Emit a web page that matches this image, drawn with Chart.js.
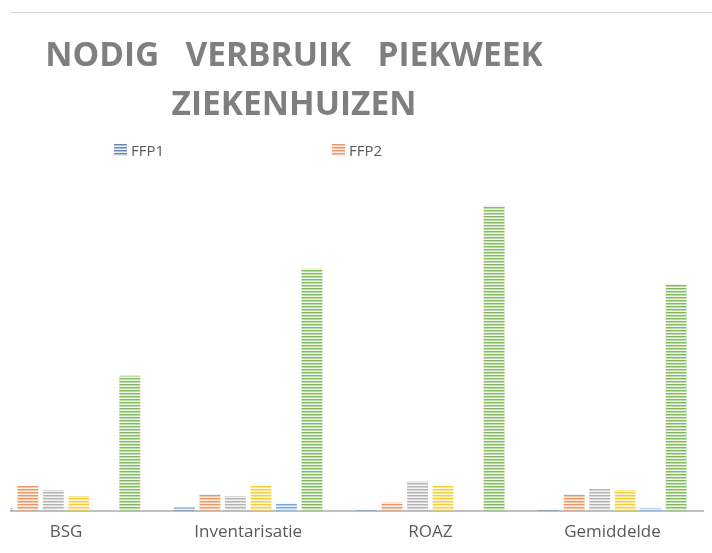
<!DOCTYPE html>
<html>
<head>
<meta charset="utf-8">
<script src="https://cdn.jsdelivr.net/npm/chart.js@4/dist/chart.umd.min.js"></script>
<style>
  html, body { margin: 0; padding: 0; background: #ffffff; }
  body { width: 712px; height: 553px; position: relative; overflow: hidden; }
  #frame { position: absolute; left: 10px; top: 0; width: 702px; height: 553px; overflow: hidden; }
  #topline { position: absolute; left: 10px; top: 12px; width: 702px; height: 1px; background: #d9d9d9; }
  #chart { position: absolute; left: -130px; top: 0; }
  .legend-item { position: absolute; top: 140px; height: 20px; line-height: 20px;
    font-family: 'Open Sans', sans-serif; font-size: 15px; color: #595959; }
  .legend-box { position: absolute; top: 4px; left: 0; }
  .legend-text { position: absolute; left: 17px; top: 0; white-space: nowrap; }
</style>
</head>
<body>
<div id="frame"><canvas id="chart" width="830" height="553"></canvas></div>
<div id="topline"></div>
<div class="legend-item" style="left:114px"><canvas class="legend-box" id="lg0" width="13" height="12"></canvas><span class="legend-text">FFP1</span></div>
<div class="legend-item" style="left:332px"><canvas class="legend-box" id="lg1" width="13" height="12"></canvas><span class="legend-text">FFP2</span></div>
<script>
// categorieën en waarden
const categories = ['BSG', 'Inventarisatie', 'ROAZ', 'Gemiddelde'];
const ffp1 = [1.6, 1.8, 0.6, 0.8];
const ffp2 = [13, 8.8, 4.4, 8.8];
const mondmaskers = [10.9, 7.8, 15.5, 11.6];
const schorten = [7.8, 13, 13, 10.9];
const brillen = [0, 3.9, 0, 1.6];
const handschoenen = [70, 125.4, 158, 117.5];

const seriesLabels = ['FFP1', 'FFP2', 'Chirurgische mondmaskers', 'Schorten', 'Spatbrillen', 'Handschoenen'];
const seriesColors = ['#4f76a8', '#e8864a', '#a6a6a6', '#f5c518', '#5b9bd5', '#70ad47'];

// horizontale lijntjes als vulling (zoals het Excel patroon)
function stripes(color, g) {
    const c = document.createElement('canvas');
    c.width = 4;
    c.height = 3;
    const p = c.getContext('2d');
    p.fillStyle = '#ffffff';
    p.fillRect(0, 0, 4, 3);
    p.fillStyle = color;
    p.globalAlpha = 0.85;
    p.fillRect(0, 0, 4, 1);
    p.globalAlpha = 0.45;
    p.fillRect(0, 1, 4, 1);
    p.globalAlpha = 0.12;
    p.fillRect(0, 2, 4, 1);
    return (g || p).createPattern(c, 'repeat');
}

// legenda blokjes
['lg0', 'lg1'].forEach((id, i) => {
    const g = document.getElementById(id).getContext('2d');
    g.fillStyle = stripes(seriesColors[i], g);
    g.fillRect(0, 0, 13, 12);
});

const values = [ffp1, ffp2, mondmaskers, schorten, brillen, handschoenen];

const ctx = document.getElementById('chart');
new Chart(ctx, {
    type: 'bar',
    data: {
        labels: categories,
        datasets: values.map((v, i) => ({
            label: seriesLabels[i],
            data: v,
            backgroundColor: stripes(seriesColors[i]),
            borderWidth: 0,
            categoryPercentage: 0.84,
            barPercentage: 0.82
        }))
    },
    options: {
        responsive: false,
        animation: false,
        devicePixelRatio: 1,
        layout: {
            padding: { left: 4.5, right: 6.5, top: 0, bottom: 8.5 }
        },
        plugins: {
            legend: { display: false },
            tooltip: { enabled: false },
            title: {
                display: true,
                text: ['NODIG   VERBRUIK   PIEKWEEK', 'ZIEKENHUIZEN'],
                color: '#7f7f7f',
                font: { family: "'Open Sans', sans-serif", size: 33.5, weight: 'bold', lineHeight: 1.454 },
                padding: { top: 32, bottom: 10.6 }
            }
        },
        scales: {
            x: {
                grid: { display: false },
                border: { display: true, color: '#c0c0c0', width: 2 },
                ticks: {
                    color: '#595959',
                    padding: 2.5,
                    font: { family: "'Open Sans', sans-serif", size: 17 }
                }
            },
            y: {
                min: 0,
                max: 192,
                afterFit: (s) => { s.width = 90.5; },
                ticks: { display: false, stepSize: 100 },
                border: { display: false, dash: [1, 4] },
                grid: {
                    drawTicks: false,
                    color: (c) => c.tick && c.tick.value === 100 ? '#e4e4e4' : 'rgba(0,0,0,0)'
                }
            }
        }
    }
});
</script>
</body>
</html>
